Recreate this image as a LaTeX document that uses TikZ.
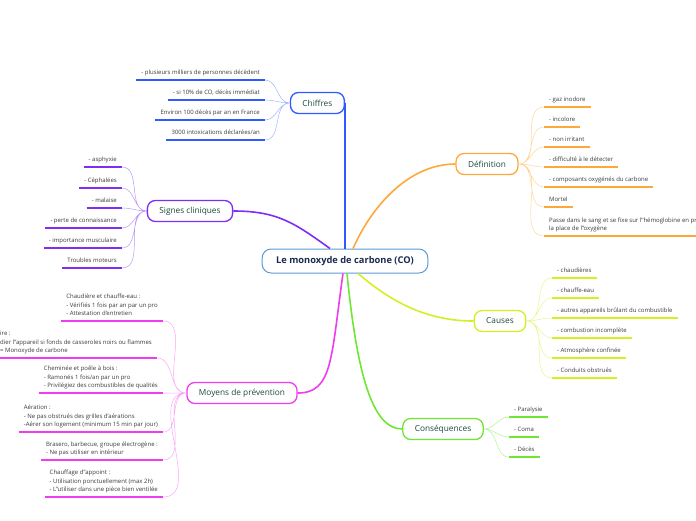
\documentclass[tikz,border=0pt]{standalone}
\usepackage{fontspec}
\setmainfont{Open Sans}
\usepackage{xcolor}
\usepackage{tikz}
\usetikzlibrary{positioning}
\definecolor{conavy}{HTML}{1B2B4F}
\definecolor{coedge}{HTML}{5B9BD5}
\definecolor{cotopic}{HTML}{1D4A3A}
\definecolor{coleaf}{HTML}{3A3A3A}
\definecolor{coblue}{HTML}{2D5BFF}
\definecolor{copaleblue}{HTML}{9FB6FF}
\definecolor{copurple}{HTML}{7F2CF5}
\definecolor{copalepurple}{HTML}{B998F7}
\definecolor{coorange}{HTML}{FFA83A}
\definecolor{copaleorange}{HTML}{FFD59A}
\definecolor{colime}{HTML}{D6EF22}
\definecolor{copalelime}{HTML}{E8F68F}
\definecolor{cogreen}{HTML}{6EE632}
\definecolor{copalegreen}{HTML}{B2F291}
\definecolor{comagenta}{HTML}{F03CF0}
\definecolor{copalemagenta}{HTML}{F7A8F7}
\newcommand{\leaffont}{\fontsize{6}{8.7}\selectfont}
\newcommand{\topicfont}{\fontsize{8.3}{10}\selectfont}

\begin{document}
\begin{tikzpicture}[
  x=1pt,y=-1pt,
  central/.style={draw=coedge,line width=1pt,rounded corners=9pt,fill=white,minimum height=24pt,inner xsep=14pt,font=\bfseries\fontsize{9.3}{11}\selectfont,text=conavy},
  topic/.style={draw=#1,line width=1.3pt,rounded corners=8pt,fill=white,minimum height=21pt,inner xsep=12pt,font=\topicfont,text=cotopic},
  leaf/.style={font=\leaffont,text=coleaf,inner xsep=5pt,inner ysep=3.4pt,text depth=1.6pt,align=left,
    append after command={(\tikzlastnode.south west) edge[draw=#1,line width=1.8pt] (\tikzlastnode.south east)}},
  leafl/.style={leaf=#1,anchor=south east},
  leafr/.style={leaf=#1,anchor=south west},
  branch/.style={draw=#1,line width=1.6pt},
  twig/.style={draw=#1,line width=0.5pt}
]
\useasboundingbox (0,0) rectangle (696,520);
\clip (0,0) rectangle (696,520);

% centre and main topics
\node[central] (co) at (345,261) {Le monoxyde de carbone (CO)};
\node[topic=coblue,anchor=east] (chiffres) at (345,103) {Chiffres};
\node[topic=copurple] (signes) at (190,211) {Signes cliniques};
\node[topic=coorange] (definition) at (487,164) {Définition};
\node[topic=colime] (causes) at (500,321) {Causes};
\node[topic=cogreen] (consequences) at (443,429) {Conséquences};
\node[topic=comagenta] (moyens) at (242,393) {Moyens de prévention};

\draw[branch=coblue] (co.north) -- (chiffres.east);
\draw[branch=copurple] ([xshift=-15pt]co.north) .. controls +(-35,-25) and +(45,0) .. (signes.east);
\draw[branch=coorange] ([xshift=8pt]co.north) .. controls +(20,-45) and +(-45,0) .. (definition.west);
\draw[branch=colime] ([xshift=13pt]co.south) .. controls +(35,30) and +(-45,0) .. (causes.west);
\draw[branch=cogreen] ([xshift=2pt]co.south) .. controls +(10,100) and +(-30,0) .. (consequences.west);
\draw[branch=comagenta] ([xshift=-2pt]co.south) .. controls +(-12,85) and +(35,0) .. (moyens.east);

% Chiffres
\node[leafl=coblue] (ch1) at (265,80) {- plusieurs milliers de personnes décèdent};
\node[leafl=coblue] (ch2) at (265,100) {-  si 10\% de CO, décès immédiat};
\node[leafl=coblue] (ch3) at (265,120) {Environ 100 décès par an en France};
\node[leafl=coblue] (ch4) at (265,140) {3000 intoxications déclarées/an};
\draw[twig=copaleblue] (chiffres.west) to[out=180,in=0] (ch1.south east)
  (chiffres.west) to[out=180,in=0] (ch2.south east)
  (chiffres.west) to[out=180,in=0] (ch3.south east)
  (chiffres.west) to[out=180,in=0] (ch4.south east);

% Signes cliniques
\node[leafl=copurple] (si1) at (122,167) {- asphyxie};
\node[leafl=copurple] (si2) at (122,188) {- Céphalées};
\node[leafl=copurple] (si3) at (122,208) {- malaise};
\node[leafl=copurple] (si4) at (122,228) {- perte de connaissance};
\node[leafl=copurple] (si5) at (122,248) {- importance musculaire};
\node[leafl=copurple] (si6) at (122,268) {Troubles moteurs};
\draw[twig=copalepurple] (signes.west) to[out=180,in=0] (si1.south east)
  (signes.west) to[out=180,in=0] (si2.south east)
  (signes.west) to[out=180,in=0] (si3.south east)
  (signes.west) to[out=180,in=0] (si4.south east)
  (signes.west) to[out=180,in=0] (si5.south east)
  (signes.west) to[out=180,in=0] (si6.south east);

% Definition
\node[leafr=coorange] (de1) at (544,107) {- gaz inodore};
\node[leafr=coorange] (de2) at (544,127) {- incolore};
\node[leafr=coorange] (de3) at (544,147) {- non irritant};
\node[leafr=coorange] (de4) at (544,167) {- difficulté à le détecter};
\node[leafr=coorange] (de5) at (544,187) {- composants oxygénés du carbone};
\node[leafr=coorange] (de6) at (544,207) {Mortel};
\node[leafr=coorange] (de7) at (544,236) {Passe dans le sang et se fixe sur l'{}'hémoglobine en pr\\la place de l'{}'oxygène};
\draw[twig=copaleorange] (definition.east) to[out=0,in=180] (de1.south west)
  (definition.east) to[out=0,in=180] (de2.south west)
  (definition.east) to[out=0,in=180] (de3.south west)
  (definition.east) to[out=0,in=180] (de4.south west)
  (definition.east) to[out=0,in=180] (de5.south west)
  (definition.east) to[out=0,in=180] (de6.south west)
  (definition.east) to[out=0,in=180] (de7.south west);

% Causes
\node[leafr=colime] (ca1) at (552,278) {- chaudières};
\node[leafr=colime] (ca2) at (552,298) {- chauffe-eau};
\node[leafr=colime] (ca3) at (552,318) {- autres appareils brûlant du combustible};
\node[leafr=colime] (ca4) at (552,338) {- combustion incomplète};
\node[leafr=colime] (ca5) at (552,358) {- Atmosphère confinée};
\node[leafr=colime] (ca6) at (552,378) {- Conduits obstrués};
\draw[twig=copalelime] (causes.east) to[out=0,in=180] (ca1.south west)
  (causes.east) to[out=0,in=180] (ca2.south west)
  (causes.east) to[out=0,in=180] (ca3.south west)
  (causes.east) to[out=0,in=180] (ca4.south west)
  (causes.east) to[out=0,in=180] (ca5.south west)
  (causes.east) to[out=0,in=180] (ca6.south west);

% Consequences
\node[leafr=cogreen] (cs1) at (509,417) {- Paralysie};
\node[leafr=cogreen] (cs2) at (509,437) {- Coma};
\node[leafr=cogreen] (cs3) at (509,457) {- Décès};
\draw[twig=copalegreen] (consequences.east) to[out=0,in=180] (cs1.south west)
  (consequences.east) to[out=0,in=180] (cs2.south west)
  (consequences.east) to[out=0,in=180] (cs3.south west);

% Moyens de prevention
\node[leafl=comagenta] (mo1) at (163,321) {Chaudière et chauffe-eau :\\- Vérifiés 1 fois par an par un pro\\- Attestation d'entretien};
\node[leafr=comagenta] (mo2) at (-5,358) {ire :\\dier l'{}'appareil si fonds de casseroles noirs ou flammes\\= Monoxyde de carbone};
\node[leafl=comagenta] (mo3) at (163,393) {Cheminée et poêle à bois :\\-  Ramonés 1 fois/an par un pro\\- Privilégiez des combustibles de qualités};
\node[leafl=comagenta] (mo4) at (163,432) {Aération :\\- Ne pas obstrués des grilles d'aérations\\-Aérer son logement (minimum 15 min par jour)};
\node[leafl=comagenta] (mo5) at (163,460) {Brasero, barbecue, groupe électrogène :\\- Ne pas utiliser en intérieur};
\node[leafl=comagenta] (mo6) at (163,497) {Chauffage d'{}'appoint :\\- Utilisation ponctuellement (max 2h)\\- L'{}'utiliser dans une pièce bien ventilée};
\draw[twig=copalemagenta] (moyens.west) to[out=180,in=0] (mo1.south east)
  (moyens.west) to[out=180,in=0] (mo2.south east)
  (moyens.west) to[out=180,in=0] (mo3.south east)
  (moyens.west) to[out=180,in=0] (mo4.south east)
  (moyens.west) to[out=180,in=0] (mo5.south east)
  (moyens.west) to[out=180,in=0] (mo6.south east);
\end{tikzpicture}
\end{document}
